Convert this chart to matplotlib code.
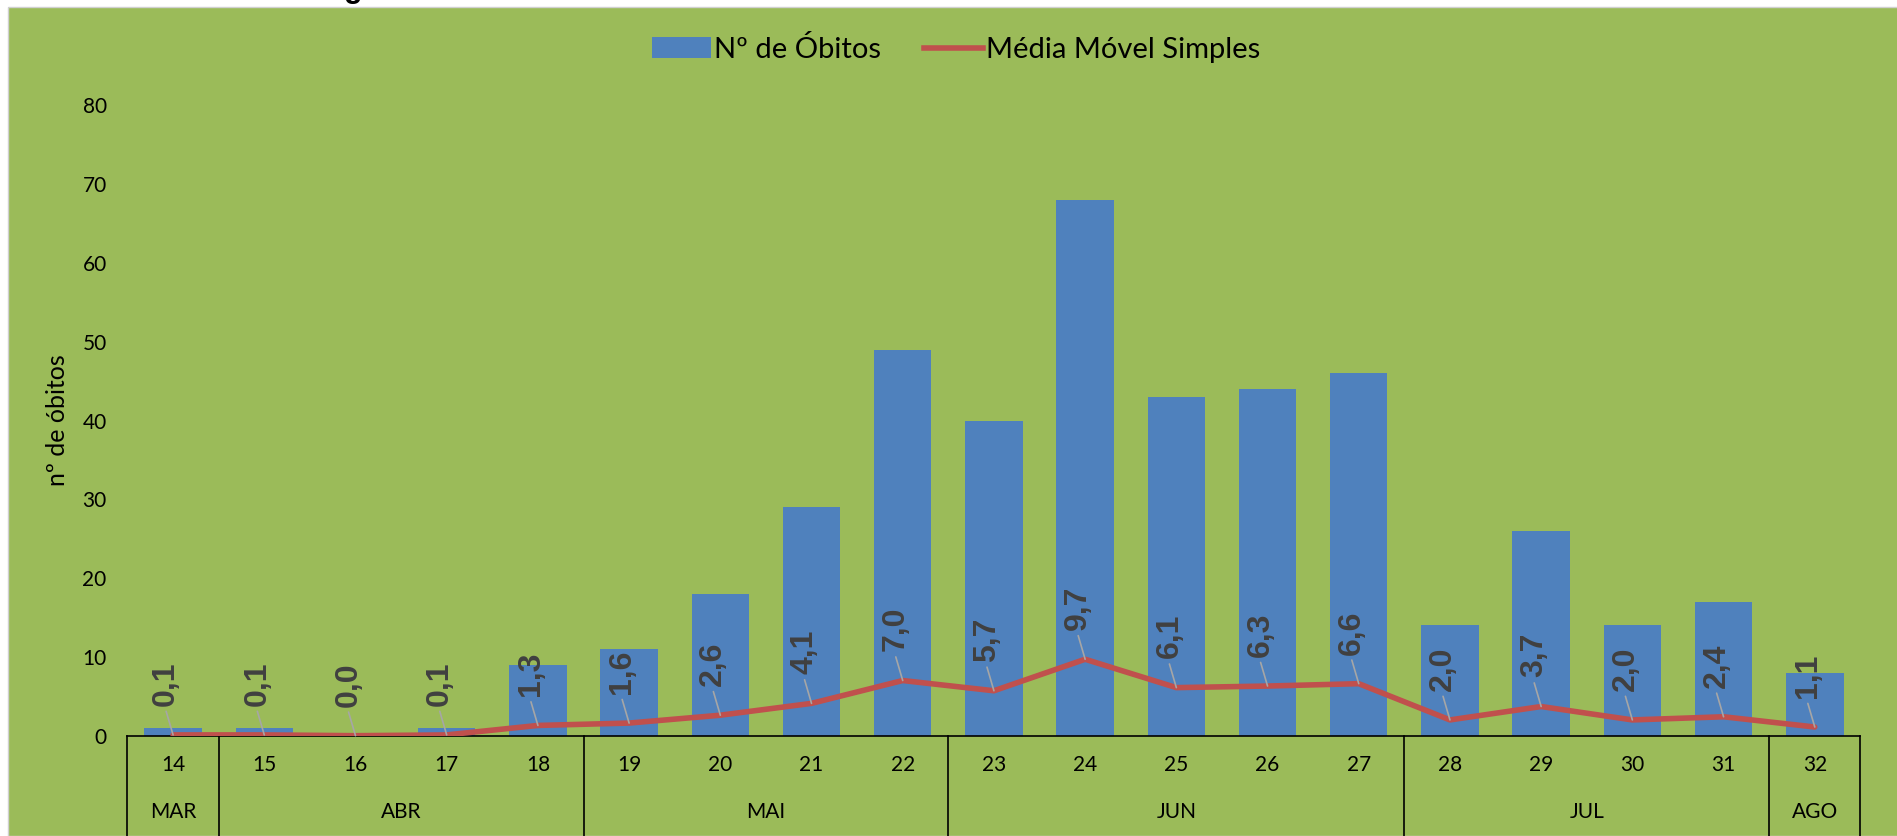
import numpy as np
import matplotlib
matplotlib.use("Agg")
import matplotlib.pyplot as plt
from matplotlib.patches import Rectangle, Patch
from matplotlib.lines import Line2D

plt.rcParams['font.family'] = ['Lato', 'DejaVu Sans']

# dados
semanas = ["14", "15", "16", "17", "18", "19", "20", "21", "22", "23",
           "24", "25", "26", "27", "28", "29", "30", "31", "32"]
obitos = [1, 1, 0, 1, 9, 11, 18, 29, 49, 40, 68, 43, 44, 46, 14, 26, 14, 17, 8]
media = [0.1, 0.1, 0.0, 0.1, 1.3, 1.6, 2.6, 4.1, 7.0, 5.7, 9.7, 6.1, 6.3, 6.6,
         2.0, 3.7, 2.0, 2.4, 1.1]
meses = ["MAR", "ABR", "MAI", "JUN", "JUL", "AGO"]
semanas_por_mes = [1, 4, 4, 5, 4, 1]

verde = '#9BBB59'
azul = '#4F81BD'
vermelho = '#C0504D'

fig = plt.figure(figsize=(18.97, 8.36), dpi=100)
fig.patch.set_facecolor('white')
fig.patches.append(Rectangle((8 / 1897, 0), 1, 1 - 7 / 836, transform=fig.transFigure,
                             facecolor=verde, edgecolor='#D0D0D0', lw=1, zorder=-10))
# resto do titulo cortado
fig.text(0.181, 1.004, "g", fontsize=22, fontweight='bold', va='baseline', ha='left',
         family='Liberation Sans')

ax = fig.add_axes([0.0672, 0.120, 0.9135, 0.754])
ax.set_facecolor('none')
x = np.arange(len(semanas))
ax.bar(x, obitos, width=0.63, color=azul, zorder=2)
ax.plot(x, media, color=vermelho, lw=4, zorder=3, solid_capstyle='round')

for xi, m in zip(x, media):
    # linha de chamada
    ax.annotate("", (xi, m), xytext=(-5, 17), textcoords='offset points', zorder=4,
                arrowprops=dict(arrowstyle='-', color='#A6A6A6', lw=1.2,
                                shrinkA=0, shrinkB=0))
    ax.annotate(f"{m:.1f}".replace(".", ","), (xi, m), xytext=(-5, 21),
                textcoords='offset points', rotation=90, ha='center', va='bottom',
                fontsize=23, fontweight='bold', color='#404040', zorder=4,
                family='Liberation Sans')

ax.set_xlim(-0.5, len(x) - 0.5)
ax.set_ylim(0, 80)
ax.set_yticks(range(0, 81, 10))
ax.set_xticks(x)
ax.set_xticklabels(semanas)
ax.tick_params(axis='x', length=0, pad=14, labelsize=15)
ax.tick_params(axis='y', length=0, pad=15, labelsize=15)
for s in ['top', 'right', 'left']:
    ax.spines[s].set_visible(False)
ax.spines['bottom'].set_color('black')
ax.spines['bottom'].set_linewidth(1.2)

ax.set_ylabel("nº de óbitos", fontsize=18)
ax.yaxis.set_label_coords(-0.034, 0.5)

# eixo de categorias em dois niveis
limites = np.concatenate([[0], np.cumsum(semanas_por_mes)]) - 0.5
xt = ax.get_xaxis_transform()
for b in limites:
    ax.plot([b, b], [0, -0.3], transform=xt, color='black', lw=1.2, clip_on=False)
for mes, a, b in zip(meses, limites[:-1], limites[1:]):
    ax.annotate(mes, ((a + b) / 2, 0), xycoords=xt, xytext=(0, -55),
                textcoords='offset points', ha='center', va='center', fontsize=15)

handles = [Patch(facecolor=azul), Line2D([0], [0], color=vermelho, lw=4)]
fig.legend(handles, ["Nº de Óbitos", "Média Móvel Simples"], loc='center',
           bbox_to_anchor=(0.504, 0.941), ncol=2, frameon=False, fontsize=21,
           handlelength=2.0, handletextpad=0.1, columnspacing=1.5)

fig.savefig("out.png", dpi=100)
